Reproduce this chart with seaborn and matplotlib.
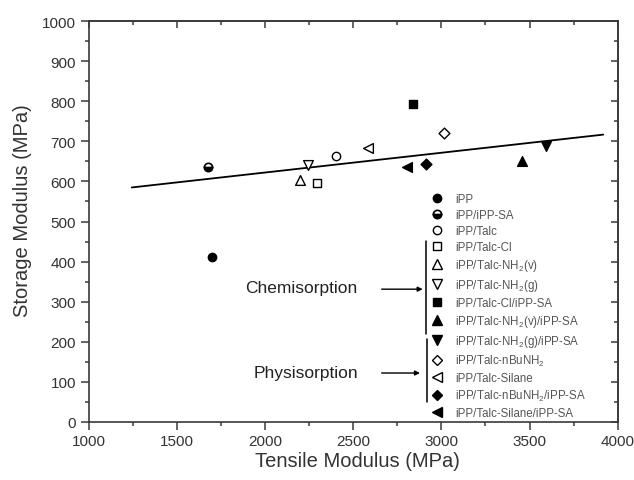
import numpy as np
import pandas as pd
import matplotlib
matplotlib.use("Agg")
import matplotlib.pyplot as plt
import seaborn as sns
from matplotlib.lines import Line2D
from matplotlib.ticker import MultipleLocator

sns.set_theme(style="ticks")
plt.rcParams["font.family"] = ["Liberation Sans", "DejaVu Sans"]
plt.rcParams["mathtext.fontset"] = "custom"
plt.rcParams["mathtext.rm"] = "Liberation Sans"
plt.rcParams["mathtext.it"] = "Liberation Sans:italic"
plt.rcParams["mathtext.bf"] = "Liberation Sans:bold"

# ---- data ----
labels = [
    "iPP",
    "iPP/iPP-SA",
    "iPP/Talc",
    "iPP/Talc-Cl",
    "iPP/Talc-NH$_2$(v)",
    "iPP/Talc-NH$_2$(g)",
    "iPP/Talc-Cl/iPP-SA",
    "iPP/Talc-NH$_2$(v)/iPP-SA",
    "iPP/Talc-NH$_2$(g)/iPP-SA",
    "iPP/Talc-nBuNH$_2$",
    "iPP/Talc-Silane",
    "iPP/Talc-nBuNH$_2$/iPP-SA",
    "iPP/Talc-Silane/iPP-SA",
]
tensile = [1698, 1680, 2405, 2295, 2200, 2245, 2838, 3456, 3594, 3015, 2583, 2913, 2804]
storage = [411, 637, 663, 595, 603, 641, 793, 652, 688, 721, 683, 643, 637]
fit_x = [1245, 3918]
fit_y = [585, 717]

# ---- styles ----
markers = ["o", "o", "o", "s", "^", "v", "s", "^", "v", "D", "<", "D", "<"]
filled = ["full", "bottom", "none", "none", "none", "none", "full", "full", "full", "none", "none", "full", "full"]
msizes = [6, 6, 6, 5.2, 7, 7, 5.2, 7, 7, 5.5, 7, 5.5, 7]

df = pd.DataFrame({"label": labels, "tensile": tensile, "storage": storage})

fig = plt.figure(figsize=(6.34, 4.81), dpi=100)
ax = fig.add_axes([88.5 / 634, 1 - 422.7 / 481, 529.2 / 634, 400.4 / 481])

# regression line
sns.lineplot(x=fit_x, y=fit_y, color="black", lw=1.3, ax=ax)

handles = []
for i, row in df.iterrows():
    m, f, ms = markers[i], filled[i], msizes[i]
    if f == "bottom":
        ax.plot([row.tensile], [row.storage], marker=m, ls="", ms=ms, color="black",
                fillstyle="bottom", markerfacecoloralt="white", mec="black", mew=1.2, zorder=3)
    else:
        sns.scatterplot(x=[row.tensile], y=[row.storage], marker=m, s=ms ** 2,
                        facecolor=("black" if f == "full" else "white"),
                        edgecolor="black", linewidth=1.0, ax=ax, zorder=3)
    if f == "bottom":
        h = Line2D([], [], marker=m, ls="", ms=ms, color="black", fillstyle="bottom",
                   markerfacecoloralt="white", mec="black", mew=1.2)
    else:
        h = Line2D([], [], marker=m, ls="", ms=ms,
                   mfc=("black" if f == "full" else "white"), mec="black", mew=1.0)
    handles.append(h)

ax.set_xlim(1000, 4000)
ax.set_ylim(0, 1000)
ax.xaxis.set_major_locator(MultipleLocator(500))
ax.xaxis.set_minor_locator(MultipleLocator(250))
ax.yaxis.set_major_locator(MultipleLocator(100))
ax.yaxis.set_minor_locator(MultipleLocator(50))

spc = "#3a3a3a"
for s in ax.spines.values():
    s.set_visible(True)
    s.set_color(spc)
    s.set_linewidth(1.2)
ax.tick_params(which="major", direction="out", length=6, width=1.1, color=spc,
               labelsize=11, labelcolor="#333333", pad=3)
ax.tick_params(which="minor", direction="out", length=3, width=1.1, color=spc)

secx = ax.secondary_xaxis("top")
secx.xaxis.set_major_locator(MultipleLocator(500))
secx.xaxis.set_minor_locator(MultipleLocator(250))
secx.tick_params(which="major", direction="in", length=5, width=1.1, color=spc, labeltop=False)
secx.tick_params(which="minor", direction="in", length=3, width=1.1, color=spc)
secx.spines["top"].set_color(spc)
secx.spines["top"].set_linewidth(1.2)

secy = ax.secondary_yaxis("right")
secy.yaxis.set_major_locator(MultipleLocator(100))
secy.yaxis.set_minor_locator(MultipleLocator(50))
secy.tick_params(which="major", direction="in", length=5, width=1.1, color=spc, labelright=False)
secy.tick_params(which="minor", direction="in", length=3, width=1.1, color=spc)
secy.spines["right"].set_color(spc)
secy.spines["right"].set_linewidth(1.2)

ax.set_xlabel("Tensile Modulus (MPa)", fontsize=14.5, color="#333333")
ax.set_ylabel("Storage Modulus (MPa)", fontsize=14.5, color="#333333")
ax.xaxis.set_label_coords(0.509, -0.073)
ax.yaxis.set_label_coords(-0.106, 0.53)

leg = ax.legend(handles, labels, loc="upper left", bbox_to_anchor=(0.647, 0.572),
                frameon=False, fontsize=8.3, handlelength=1.0, handletextpad=1.1,
                labelspacing=0.35, borderpad=0, borderaxespad=0, labelcolor="#555555")

# brackets, arrows and annotations
tr = ax.transAxes
ax.plot([0.638, 0.638], [0.452, 0.219], color="black", lw=1.1, transform=tr)
ax.plot([0.640, 0.640], [0.2065, 0.049], color="black", lw=1.1, transform=tr)
for y0, x1 in [(0.331, 0.6315), (0.1216, 0.6264)]:
    ax.annotate("", xy=(x1, y0), xytext=(0.554, y0), xycoords="axes fraction",
                arrowprops=dict(arrowstyle="-|>", lw=1.0, color="black", mutation_scale=7,
                                shrinkA=0, shrinkB=0))
ax.text(0.5087, 0.335, "Chemisorption", ha="right", va="center", fontsize=12.5,
        color="#222222", transform=tr)
ax.text(0.510, 0.124, "Physisorption", ha="right", va="center", fontsize=12.5,
        color="#222222", transform=tr)

fig.savefig("out.png", dpi=100)
